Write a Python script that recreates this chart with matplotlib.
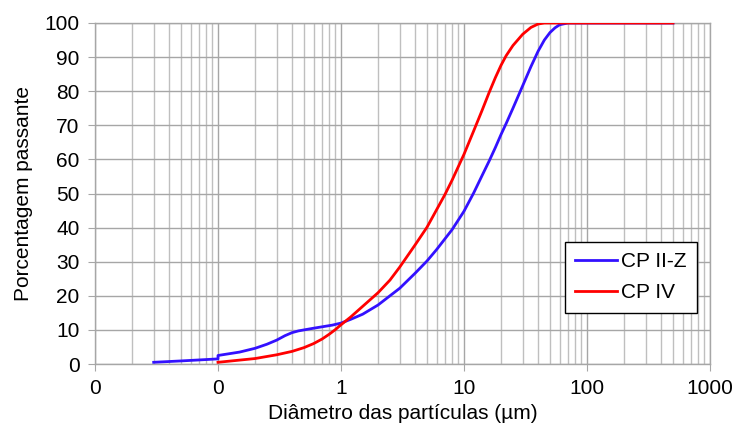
import matplotlib
matplotlib.use("Agg")
import matplotlib.pyplot as plt
from matplotlib.ticker import FixedLocator, FixedFormatter, LogLocator, NullFormatter

plt.rcParams['font.family'] = ['Liberation Sans', 'DejaVu Sans']

# Particle size distribution (cumulative % passing)
cp2z_diam = [0.03, 0.05, 0.08, 0.1, 0.1, 0.15, 0.2, 0.25, 0.3, 0.35, 0.4,
             0.45, 0.5, 0.6, 0.7, 0.85, 1.0, 1.2, 1.5, 2, 2.5, 3, 4, 5, 6, 8,
             10, 12, 14, 16, 18, 20, 22, 25, 30, 35, 40, 45, 50, 55, 60, 70,
             100, 200, 500]
cp2z_pass = [0.5, 0.9, 1.3, 1.5, 2.5, 3.5, 4.6, 5.8, 7.0, 8.3, 9.2, 9.7,
             10.0, 10.5, 10.9, 11.4, 12.0, 13.1, 14.6, 17.3, 20.0, 22.2, 26.6,
             30.2, 33.6, 39.4, 44.8, 50.2, 55.2, 59.5, 63.5, 67.3, 70.5, 75.0,
             81.6, 87.2, 91.7, 95.0, 97.2, 98.6, 99.5, 100, 100, 100, 100]

cp4_diam = [0.1, 0.2, 0.3, 0.4, 0.5, 0.6, 0.7, 0.8, 0.9, 1.0, 1.2, 1.5, 2,
            2.5, 3, 4, 5, 6, 7, 8, 10, 12, 14, 16, 18, 20, 22, 25, 30, 35, 40,
            45, 100, 500]
cp4_pass = [0.5, 1.6, 2.7, 3.7, 4.8, 6.0, 7.3, 8.7, 10.1, 11.5, 13.8, 16.9,
            20.9, 24.6, 28.4, 34.9, 40.1, 45.3, 49.7, 53.9, 61.5, 68.4, 74.3,
            79.6, 84.0, 87.6, 90.4, 93.4, 96.7, 98.7, 99.7, 100, 100, 100]

x_ticks = [0.01, 0.1, 1, 10, 100, 1000]
x_ticklabels = ["0", "0", "1", "10", "100", "1000"]
y_ticks = list(range(0, 101, 10))

fig = plt.figure(figsize=(7.34, 4.32), dpi=100)
ax = fig.add_axes([95 / 734, 68 / 432, 615 / 734, 341 / 432])

ax.plot(cp2z_diam, cp2z_pass, color='#3311ff', lw=2.0, label='CP II-Z',
        solid_joinstyle='round', zorder=3)
ax.plot(cp4_diam, cp4_pass, color='#ff0000', lw=2.0, label='CP IV',
        solid_joinstyle='round', zorder=4)

ax.set_xscale('log')
ax.set_xlim(0.01, 1000)
ax.set_ylim(0, 100)

ax.xaxis.set_major_locator(FixedLocator(x_ticks))
ax.xaxis.set_major_formatter(FixedFormatter(x_ticklabels))
ax.xaxis.set_minor_locator(LogLocator(base=10, subs=range(2, 10)))
ax.xaxis.set_minor_formatter(NullFormatter())
ax.set_yticks(y_ticks)

ax.grid(True, which='major', color='#a6a6a6', lw=1.0, zorder=0)
ax.grid(True, which='minor', axis='x', color='#bfbfbf', lw=1.0, zorder=0)
for s in ax.spines.values():
    s.set_color('#a6a6a6')
    s.set_linewidth(1.0)

ax.tick_params(axis='both', which='major', direction='out', length=5,
               color='#a6a6a6', labelsize=15, pad=6)
ax.tick_params(axis='x', which='minor', length=0)

ax.set_xlabel('Diâmetro das partículas (µm)', fontsize=15, labelpad=4)
ax.set_ylabel('Porcentagem passante', fontsize=15, labelpad=8)

leg = ax.legend(loc='lower right', bbox_to_anchor=(0.979, 0.150),
                fontsize=15, frameon=True, fancybox=False,
                edgecolor='black', handlelength=2.0, handletextpad=0.2,
                labelspacing=0.6, borderpad=0.5, borderaxespad=0)
leg.get_frame().set_linewidth(1.0)
leg.get_frame().set_alpha(1)

fig.savefig('out.png', dpi=100)
